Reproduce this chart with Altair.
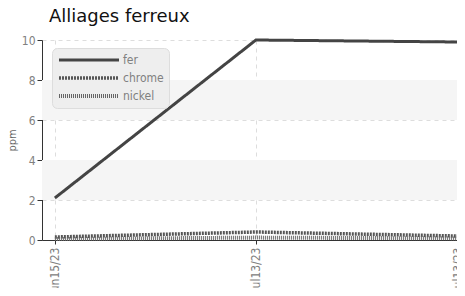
import altair as alt
import pandas as pd

x_labels = ["Jun15/23", "Jul13/23", "Jul13/23"]
x_pos = [0, 1, 2]
series = ["fer", "chrome", "nickel"]
fer = [2.1, 10.0, 9.9]
chrome = [0.15, 0.4, 0.2]
nickel = [0.05, 0.12, 0.08]
band_lo = [2, 6]
band_hi = [4, 8]
y_ticks = [0, 2, 4, 6, 8, 10]

rows = []
for name, vals in zip(series, [fer, chrome, nickel]):
    for xp, v in zip(x_pos, vals):
        rows.append({"x": xp, "v": v, "s": name})
df = pd.DataFrame(rows)
bands = pd.DataFrame({"v": band_lo, "hi": band_hi})

cond = "Liberation Sans Narrow, DejaVu Sans Condensed, Roboto, sans-serif"
label_expr = "[" + ",".join("'%s'" % l for l in x_labels) + "][datum.value]"

W, H = 415, 200
xscale = alt.Scale(domain=[-0.064, 2.0], nice=False, zero=False)
yscale = alt.Scale(domain=[0, 10], nice=False)

yaxis = alt.Axis(values=y_ticks, title="ppm", grid=True,
                 labelOverlap=False, tickCount=6,
                 gridDash=[4, 4], gridColor="#dddddd",
                 domainColor="#333333", tickColor="#333333", tickSize=5,
                 labelColor="#808080", labelFont=cond, labelFontSize=12,
                 titleColor="#666666", titleFont=cond, titleFontSize=11,
                 titleFontWeight="normal", titlePadding=4)

band = alt.Chart(bands).mark_rect(color="#f5f5f5").encode(
    y=alt.Y("v:Q", scale=yscale, axis=yaxis),
    y2="hi:Q",
    x=alt.value(0),
    x2=alt.value(W),
)

lines = alt.Chart(df).mark_line(strokeCap="butt").encode(
    x=alt.X("x:Q", scale=xscale,
            axis=alt.Axis(values=x_pos, labelExpr=label_expr, title=None,
                          labelAngle=270, labelAlign="right", labelBaseline="middle",
                          labelOverlap=False,
                          grid=True, gridDash=[4, 4], gridColor="#dddddd",
                          domainColor="#333333", tickColor="#333333", tickSize=4,
                          labelColor="#808080", labelFont=cond, labelFontSize=12,
                          labelPadding=3)),
    y=alt.Y("v:Q", scale=yscale, axis=yaxis),
    color=alt.Color("s:N", scale=alt.Scale(domain=series, range=["#444444", "#555555", "#666666"]),
                    legend=alt.Legend(title=None)),
    strokeDash=alt.StrokeDash("s:N", scale=alt.Scale(domain=series, range=[[1, 0], [2, 1], [1, 1]]),
                              legend=alt.Legend(title=None)),
    strokeWidth=alt.StrokeWidth("s:N", scale=alt.Scale(domain=series, range=[3, 4, 2.5]),
                                legend=alt.Legend(title=None)),
)

chart = alt.layer(band, lines).properties(
    width=W, height=H,
    title=alt.TitleParams("Alliages ferreux", anchor="start", frame="group", dx=7,
                          font="DejaVu Sans", fontSize=18, fontWeight="normal",
                          color="#111111", offset=8),
    autosize=alt.AutoSizeParams(type="none"),
    padding={"left": 34, "top": 32, "right": 0, "bottom": 48},
).configure_view(stroke=None).configure_legend(
    orient="none", legendX=10, legendY=8, fillColor="#eeeeee", strokeColor="#dddddd",
    cornerRadius=5, padding=5, symbolType="stroke", symbolSize=3600, clipHeight=14,
    labelFont=cond, labelFontSize=12, labelColor="#808080", rowPadding=4,
    labelOffset=2,
)

chart.save("out.html", embed_options={"renderer": "svg", "actions": False})
